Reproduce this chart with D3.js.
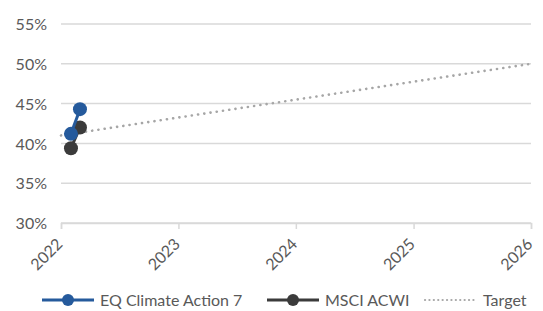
<!DOCTYPE html>
<html>
<head>
<meta charset="utf-8">
<script src="https://cdn.jsdelivr.net/npm/d3@7"></script>
<style>
  body { margin: 0; background: #fff; }
  svg text { font-family: "Lato", "Open Sans", sans-serif; font-weight: 400; fill: #595959; }
</style>
</head>
<body>
<div id="chart"></div>
<script>

// --- Daten -------------------------------------------------------------- //

var eqDates = ['2022-02-01', '2022-03-01'];
var eqValues = [41.2, 44.3];

var msciDates = ['2022-02-01', '2022-03-01'];
var msciValues = [39.4, 42.0];

var targetDates = ['2022-01-01', '2026-01-01'];
var targetValues = [41.0, 50.0];

var yTicks = [30, 35, 40, 45, 50, 55];
var xTickYears = [2022, 2023, 2024, 2025, 2026];

var seriesNames = ['EQ Climate Action 7', 'MSCI ACWI', 'Target'];

// --- Zeichnen ----------------------------------------------------------- //

var width = 543, height = 311;
var parse = d3.timeParse('%Y-%m-%d');

var svg = d3.select('#chart').append('svg')
    .attr('width', width)
    .attr('height', height);

var x = d3.scaleTime()
    .domain([new Date(2022, 0, 1), new Date(2026, 0, 1)])
    .range([61, 531]);

var y = d3.scaleLinear()
    .domain([30, 55])
    .range([223, 24]);

// Gitterlinien
svg.append('g')
    .selectAll('line')
    .data(yTicks)
    .enter().append('line')
    .attr('x1', x.range()[0])
    .attr('x2', x.range()[1])
    .attr('y1', function (d) { return y(d); })
    .attr('y2', function (d) { return y(d); })
    .attr('stroke', '#d9d9d9')
    .attr('stroke-width', 1.5);

// Y-Achse
var yAxis = svg.append('g')
    .attr('transform', 'translate(' + x.range()[0] + ',0)')
    .call(d3.axisLeft(y).tickValues(yTicks).tickSize(0).tickPadding(14)
        .tickFormat(function (d) { return d + '%'; }));
yAxis.select('.domain').remove();
yAxis.selectAll('text').style('font-size', '16px').attr('dy', '0.36em');

// X-Achse
var xAxis = svg.append('g')
    .attr('transform', 'translate(0,' + y(30) + ')')
    .call(d3.axisBottom(x)
        .tickValues(xTickYears.map(function (yr) { return new Date(yr, 0, 1); }))
        .tickSize(6).tickFormat(d3.timeFormat('%Y')));
xAxis.select('.domain').attr('stroke', '#d9d9d9').attr('stroke-width', 1.5);
xAxis.selectAll('.tick line').attr('stroke', '#d9d9d9').attr('stroke-width', 1.5);
xAxis.selectAll('text')
    .style('font-size', '16px')
    .style('text-anchor', 'end')
    .attr('x', 0)
    .attr('y', 0)
    .attr('dy', '0.36em')
    .attr('transform', 'translate(-2,18) rotate(-45)');

var line = d3.line()
    .x(function (d) { return x(d.date); })
    .y(function (d) { return y(d.value); });

function makePoints(_dates, _values) {
    return _dates.map(function (d, i) { return { date: parse(d), value: _values[i] }; });
}

// Target
svg.append('path')
    .datum(makePoints(targetDates, targetValues))
    .attr('d', line)
    .attr('fill', 'none')
    .attr('stroke', '#a6a6a6')
    .attr('stroke-width', 2.6)
    .attr('stroke-linecap', 'round')
    .attr('stroke-dasharray', '0.1,6.2');

function drawSeries(_dates, _values, _color) {
    var pts = makePoints(_dates, _values);
    svg.append('path')
        .datum(pts)
        .attr('d', line)
        .attr('fill', 'none')
        .attr('stroke', _color)
        .attr('stroke-width', 3);
    svg.append('g').selectAll('circle')
        .data(pts)
        .enter().append('circle')
        .attr('cx', function (d) { return x(d.date); })
        .attr('cy', function (d) { return y(d.value); })
        .attr('r', 7)
        .attr('fill', _color);
}

drawSeries(msciDates, msciValues, '#3b3b3b');
drawSeries(eqDates, eqValues, '#255a9c');

// Legende
var legendY = 300;
var legend = [
    { name: seriesNames[0], color: '#255a9c', x: 42, marker: true },
    { name: seriesNames[1], color: '#3b3b3b', x: 267, marker: true },
    { name: seriesNames[2], color: '#a6a6a6', x: 425, marker: false }
];

legend.forEach(function (l) {
    var g = svg.append('g');
    var ln = g.append('line')
        .attr('x1', l.x).attr('x2', l.x + 52)
        .attr('y1', legendY).attr('y2', legendY)
        .attr('stroke', l.color)
        .attr('stroke-width', l.marker ? 3 : 2.2);
    if (l.marker) {
        g.append('circle').attr('cx', l.x + 26).attr('cy', legendY).attr('r', 6).attr('fill', l.color);
    } else {
        ln.attr('stroke-linecap', 'round').attr('stroke-dasharray', '0.1,4.3');
    }
    g.append('text')
        .attr('x', l.x + 58)
        .attr('y', legendY)
        .attr('dy', '0.36em')
        .style('font-size', '16px')
        .text(l.name);
});

</script>
</body>
</html>
